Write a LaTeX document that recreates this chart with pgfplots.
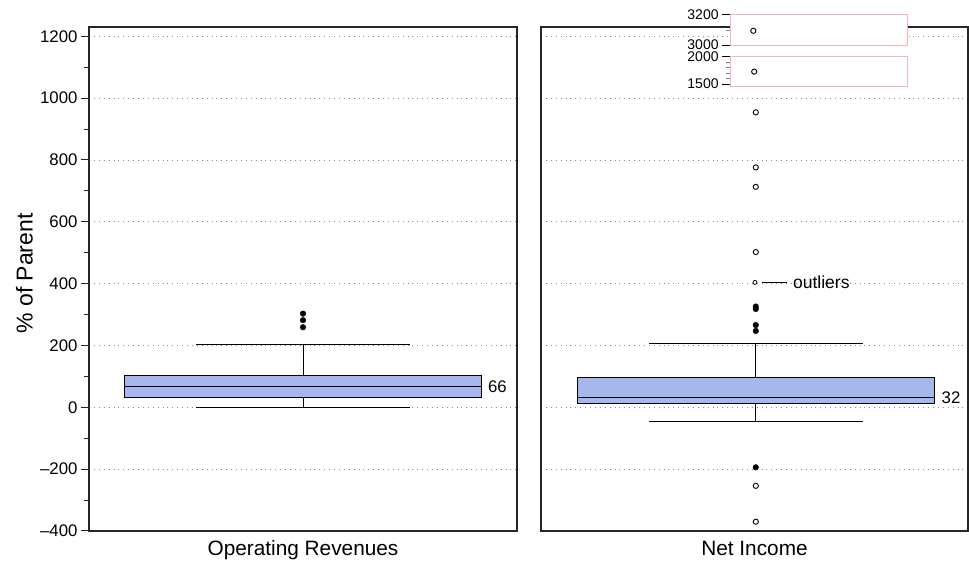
\documentclass[border=0pt]{standalone}
\usepackage{fontspec}
\setmainfont{Liberation Sans}
\usepackage{pgfplots}
\pgfplotsset{compat=1.18}

\definecolor{boxblue}{HTML}{A6B7EC}
\definecolor{insetpink}{HTML}{F7B5B5}
\definecolor{gridgray}{HTML}{8A8A8A}

\newcommand\ticksize{\fontsize{16.8}{18}\selectfont}
\newcommand\labelsize{\fontsize{20.8}{22}\selectfont}
\newcommand\insetsize{\fontsize{14}{15}\selectfont}

\pgfplotsset{
  panel/.style={
    scale only axis, anchor=south west,
    height=504pt,
    xmin=0, xmax=1, ymin=-400, ymax=1230,
    xtick=\empty,
    ytick={-400,-200,...,1200},
    ymajorgrids,
    major grid style={gridgray, line width=0.7pt, dash pattern=on 0.9pt off 4pt},
    axis line style={black!85, line width=1.1pt},
    clip=false,
    xlabel style={font=\labelsize, at={(axis description cs:0.5,0)}, anchor=base, yshift=-25pt},
  },
  inset/.style={
    scale only axis, anchor=south west,
    width=177pt,
    xmin=0, xmax=1, xtick=\empty,
    axis background/.style={fill=white},
    axis line style={insetpink, line width=1pt},
    ytick pos=left, tick align=outside,
    major tick length=8pt, minor tick length=4pt,
    major tick style={black, line width=1pt},
    minor tick style={gray, line width=0.8pt},
    yticklabel style={font=\insetsize, inner sep=0pt, xshift=-3.5pt},
  },
  boxpart/.style={draw=black, line width=1pt},
  outfill/.style={only marks, mark=*, mark size=2.8pt, black},
  outopen/.style={only marks, mark=o, mark size=2.6pt, mark options={line width=0.9pt, fill=white}, black},
}

\begin{document}
\begin{tikzpicture}
\path[use as bounding box] (0pt,0pt) rectangle (969pt,564pt);

% Operating revenues: whiskers 0..203, quartiles 32..103, median 66
\begin{axis}[panel, at={(89pt,33pt)}, width=428pt,
  ytick pos=left, tick align=outside,
  major tick length=8pt, minor tick length=5pt, minor y tick num=1,
  tick style={black!85, line width=1pt},
  yticklabels={–400,–200,0,200,400,600,800,1000,1200},
  yticklabel style={font=\ticksize},
  ylabel={\% of Parent},
  ylabel style={font=\fontsize{23}{25}\selectfont, at={(axis description cs:-0.1507,0.511)}, anchor=center},
  xlabel={Operating Revenues}]
\addplot[boxpart] coordinates {(0.5,103) (0.5,203)};
\addplot[boxpart] coordinates {(0.25,203) (0.75,203)};
\addplot[boxpart] coordinates {(0.5,32) (0.5,0)};
\addplot[boxpart] coordinates {(0.25,0) (0.75,0)};
\addplot[boxpart, fill=boxblue] coordinates {(0.0835,32) (0.9165,32) (0.9165,103) (0.0835,103)} -- cycle;
\addplot[boxpart] coordinates {(0.0835,66) (0.9165,66)};
\addplot[outfill] coordinates {(0.5,259) (0.5,282) (0.5,303)};
\node[anchor=west, inner sep=0pt, font=\ticksize] at (axis cs:0.932,66) {66};
\end{axis}

% Net income: whiskers -47..207, quartiles 13..97, median 32
\begin{axis}[panel, at={(541pt,33pt)}, width=427pt,
  yticklabels={}, ytick style={draw=none},
  xlabel={Net Income}]
\addplot[boxpart] coordinates {(0.503,97) (0.503,207)};
\addplot[boxpart] coordinates {(0.253,207) (0.753,207)};
\addplot[boxpart] coordinates {(0.503,13) (0.503,-47)};
\addplot[boxpart] coordinates {(0.253,-47) (0.753,-47)};
\addplot[boxpart, fill=boxblue] coordinates {(0.0855,13) (0.9205,13) (0.9205,97) (0.0855,97)} -- cycle;
\addplot[boxpart] coordinates {(0.0855,32) (0.9205,32)};
\addplot[outfill] coordinates {(0.503,-194) (0.503,247) (0.503,266) (0.503,318) (0.503,326)};
\addplot[outopen] coordinates {(0.503,-370) (0.503,-254) (0.503,502) (0.503,713) (0.503,776) (0.503,954)};
\addplot[only marks, mark=o, mark size=2pt, mark options={line width=0.8pt, fill=white}, black]
  coordinates {(0.501,404)};
\draw[black, line width=1pt] (axis cs:0.518,404) -- (axis cs:0.575,404);
\node[anchor=west, inner sep=0pt, font=\fontsize{17.5}{19}\selectfont] at (axis cs:0.59,404) {outliers};
\node[anchor=west, inner sep=0pt, font=\ticksize] at (axis cs:0.938,32) {32};
\end{axis}

% Broken-axis insets for the two largest outliers
\begin{axis}[inset, at={(730.3pt,477pt)}, height=30.3pt,
  ymin=1445, ymax=2005, ytick={1500,2000}, yticklabels={1500,\raisebox{-1.2pt}{2000}},
  minor ytick={1600,1700,1800,1900}]
\addplot[outopen] coordinates {(0.135,1728)};
\end{axis}

\begin{axis}[inset, at={(730.3pt,518.7pt)}, height=31pt,
  ymin=3000, ymax=3203, ytick={3000,3200}, yticklabels={\raisebox{1.2pt}{3000},3200},
  minor ytick={3100}]
\addplot[outopen] coordinates {(0.130,3095)};
\end{axis}

\end{tikzpicture}
\end{document}
